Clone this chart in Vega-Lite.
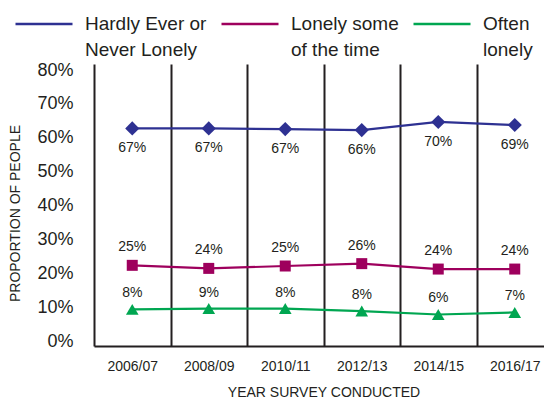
{
  "$schema": "https://vega.github.io/schema/vega-lite/v6.json",
  "width": 450,
  "height": 282,
  "autosize": {"type": "none"},
  "padding": {"left": 94, "top": 64, "right": 0, "bottom": 55},
  "background": "white",
  "config": {
    "font": "Liberation Sans",
    "view": {"stroke": null},
    "style": {"guide-label": {"lineHeight": 26}}
  },
  "data": {
    "values": [
      {"year": "2006/07", "series": "Hardly Ever or Never Lonely", "value": 0.628, "label": "67%"},
      {"year": "2008/09", "series": "Hardly Ever or Never Lonely", "value": 0.628, "label": "67%"},
      {"year": "2010/11", "series": "Hardly Ever or Never Lonely", "value": 0.626, "label": "67%"},
      {"year": "2012/13", "series": "Hardly Ever or Never Lonely", "value": 0.623, "label": "66%"},
      {"year": "2014/15", "series": "Hardly Ever or Never Lonely", "value": 0.647, "label": "70%"},
      {"year": "2016/17", "series": "Hardly Ever or Never Lonely", "value": 0.638, "label": "69%"},
      {"year": "2006/07", "series": "Lonely some of the time", "value": 0.224, "label": "25%"},
      {"year": "2008/09", "series": "Lonely some of the time", "value": 0.215, "label": "24%"},
      {"year": "2010/11", "series": "Lonely some of the time", "value": 0.222, "label": "25%"},
      {"year": "2012/13", "series": "Lonely some of the time", "value": 0.229, "label": "26%"},
      {"year": "2014/15", "series": "Lonely some of the time", "value": 0.213, "label": "24%"},
      {"year": "2016/17", "series": "Lonely some of the time", "value": 0.213, "label": "24%"},
      {"year": "2006/07", "series": "Often lonely", "value": 0.094, "label": "8%"},
      {"year": "2008/09", "series": "Often lonely", "value": 0.0965, "label": "9%"},
      {"year": "2010/11", "series": "Often lonely", "value": 0.0965, "label": "8%"},
      {"year": "2012/13", "series": "Often lonely", "value": 0.089, "label": "8%"},
      {"year": "2014/15", "series": "Often lonely", "value": 0.079, "label": "6%"},
      {"year": "2016/17", "series": "Often lonely", "value": 0.085, "label": "7%"}
    ]
  },
  "encoding": {
    "x": {
      "field": "year", "type": "nominal", "sort": null,
      "scale": {"type": "band", "paddingInner": 0, "paddingOuter": 0, "range": [0, 459]},
      "axis": {
        "title": "YEAR SURVEY CONDUCTED", "titleFont": "Liberation Sans", "titleFontSize": 14, "titleFontWeight": "normal", "titleColor": "#231f20", "titlePadding": 12,
        "labelAngle": 0, "labelFontSize": 14, "labelColor": "#231f20", "labelPadding": 13,
        "ticks": false, "tickBand": "extent",
        "grid": true, "gridColor": "#231f20", "gridWidth": 2, "gridOpacity": 1,
        "domainColor": "#231f20", "domainWidth": 2
      }
    },
    "y": {
      "field": "value", "type": "quantitative",
      "scale": {"domain": [-0.014, 0.818], "nice": false, "zero": false},
      "axis": {
        "title": "PROPORTION OF PEOPLE", "titleFontSize": 14, "titleFontWeight": "normal", "titleColor": "#231f20", "titlePadding": 14, "titleY": 149,
        "values": [0, 0.1, 0.2, 0.3, 0.4, 0.5, 0.6, 0.7, 0.8], "format": ".0%",
        "labelFontSize": 18, "labelColor": "#231f20", "labelPadding": 21,
        "ticks": false, "domain": false, "grid": false
      }
    }
  },
  "layer": [
    {
      "mark": {"type": "line", "strokeWidth": 2.2},
      "encoding": {
        "color": {
          "field": "series", "type": "nominal",
          "scale": {"domain": ["Hardly Ever or Never Lonely", "Lonely some of the time", "Often lonely"], "range": ["#2e3192", "#9e005d", "#00a651"]},
          "legend": {
            "title": null, "orient": "none", "legendX": -80, "legendY": -70, "direction": "horizontal", "columns": 3,
            "symbolType": "stroke", "symbolSize": 3249, "symbolStrokeWidth": 2.5,
            "labelFontSize": 19, "labelColor": "#231f20", "labelOffset": 11, "columnPadding": 9, "labelLimit": 300, "labelBaseline": "alphabetic",
            "labelExpr": "datum.label == 'Hardly Ever or Never Lonely' ? ['Hardly Ever or', 'Never Lonely'] : datum.label == 'Lonely some of the time' ? ['Lonely some', 'of the time'] : ['Often', 'lonely']",
            "encode": {"labels": {"update": {"dy": {"value": 6}}}}
          }
        }
      }
    },
    {
      "transform": [{"filter": "datum.series == 'Hardly Ever or Never Lonely'"}],
      "mark": {"type": "point", "filled": true, "opacity": 1, "shape": "diamond", "size": 200, "color": "#2e3192"}
    },
    {
      "transform": [{"filter": "datum.series == 'Lonely some of the time'"}],
      "mark": {"type": "point", "filled": true, "opacity": 1, "shape": "square", "size": 121, "color": "#9e005d"}
    },
    {
      "transform": [{"filter": "datum.series == 'Often lonely'"}],
      "mark": {"type": "point", "filled": true, "opacity": 1, "shape": "triangle-up", "size": 160, "color": "#00a651"}
    },
    {
      "transform": [{"filter": "datum.series == 'Hardly Ever or Never Lonely'"}],
      "mark": {"type": "text", "dy": 20, "fontSize": 14, "color": "#231f20", "baseline": "middle"},
      "encoding": {"text": {"field": "label"}}
    },
    {
      "transform": [{"filter": "datum.series == 'Lonely some of the time'"}],
      "mark": {"type": "text", "dy": -18, "fontSize": 14, "color": "#231f20", "baseline": "middle"},
      "encoding": {"text": {"field": "label"}}
    },
    {
      "transform": [{"filter": "datum.series == 'Often lonely'"}],
      "mark": {"type": "text", "dy": -16, "fontSize": 14, "color": "#231f20", "baseline": "middle"},
      "encoding": {"text": {"field": "label"}}
    }
  ]
}
